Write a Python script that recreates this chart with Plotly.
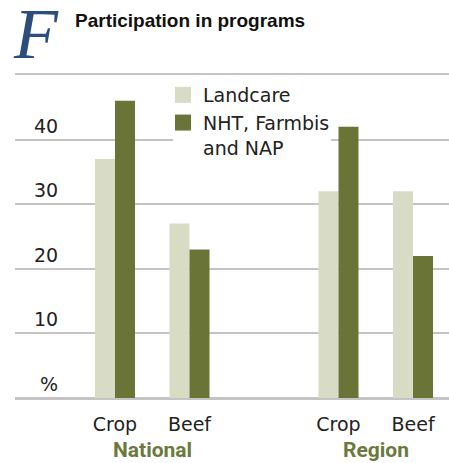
import plotly.graph_objects as go

# Participation in programs (% of farms)
group_labels = ["National", "Region"]
categories = ["Crop", "Beef", "Crop", "Beef"]
x_pos = [0, 1, 3, 4]
landcare = [37, 27, 32, 32]
nht_farmbis_nap = [46, 23, 42, 22]
y_ticks = [0, 10, 20, 30, 40]
y_tick_text = ["%", "10", "20", "30", "40"]
series_names = ["Landcare", "NHT, Farmbis<br>and NAP"]

LIGHT = "#d9dcc4"
DARK = "#697436"
OLIVE_TEXT = "#6b7a3c"
GRID = "#c4c4c4"
BAR_W = 0.2685
BODY_FONT = "DejaVu Sans, sans-serif"

fig = go.Figure()
for vals, name, color, off in [
    (landcare, series_names[0], LIGHT, -BAR_W),
    (nht_farmbis_nap, series_names[1], DARK, 0),
]:
    fig.add_trace(go.Bar(
        x=x_pos, y=vals, name=name, legendgroup=name, showlegend=False,
        marker=dict(color=color, line=dict(width=0)),
        width=BAR_W, offset=off,
    ))
    # legend entry with a larger square swatch
    fig.add_trace(go.Scatter(
        x=[None], y=[None], mode="markers", name=name, legendgroup=name,
        marker=dict(symbol="square", size=16, color=color, line=dict(width=0)),
    ))

# y tick labels sit just above their gridlines, right-aligned
for v, t in zip(y_ticks, y_tick_text):
    fig.add_annotation(
        x=-0.738, y=v, xref="x", yref="y", text=t, showarrow=False,
        xanchor="right", yanchor="bottom", yshift=1,
        font=dict(family=BODY_FONT, size=19, color="#222"),
    )

# group labels under the category ticks
for gx, g in zip([0.5, 3.5], group_labels):
    fig.add_annotation(
        x=gx, y=0, xref="x", yref="y", text="<b>" + g + "</b>", showarrow=False,
        xanchor="center", yanchor="middle", yshift=-52,
        font=dict(family="Roboto, sans-serif", size=21, color=OLIVE_TEXT),
    )

TOP, BOTTOM, LEFT = 75, 65, 15
plot_w = 449 - LEFT
plot_h = 463 - TOP - BOTTOM

# big italic panel letter
fig.add_annotation(
    x=(36 - LEFT) / plot_w, y=(463 - BOTTOM - 34) / plot_h, xref="paper", yref="paper",
    text="<i>F</i>", showarrow=False, xanchor="center", yanchor="middle",
    font=dict(family="Liberation Serif, serif", size=72, color="#2d4d7d"),
)

# white patch that interrupts the 40 gridline behind the legend text
fig.add_shape(
    type="rect", layer="between", xref="x", yref="y",
    x0=0.78, x1=2.9, y0=37, y1=43,
    fillcolor="white", line=dict(width=0),
)

fig.update_layout(
    width=449, height=463,
    margin=dict(l=LEFT, r=0, t=TOP, b=BOTTOM),
    paper_bgcolor="white", plot_bgcolor="white",
    barmode="overlay",
    showlegend=True,
    legend=dict(
        x=(163 - LEFT) / plot_w, y=(463 - BOTTOM - 76) / plot_h, xanchor="left", yanchor="top",
        bgcolor="rgba(0,0,0,0)", borderwidth=0, valign="top",
        font=dict(family=BODY_FONT, size=19, color="#222"),
        tracegroupgap=0, itemclick=False,
    ),
    title=dict(
        text="<b>Participation in programs</b>",
        x=75 / 449, xanchor="left", xref="container",
        y=1 - 20 / 463, yanchor="middle", yref="container",
        font=dict(family="Liberation Sans, Arial, sans-serif", size=19, color="#111"),
    ),
    xaxis=dict(
        range=[-1.342, 4.483], tickvals=x_pos, ticktext=categories,
        showgrid=False, zeroline=False, ticks="",
        # axis line mirrored to the top gives the rule at 50
        showline=True, mirror=True, linecolor=GRID, linewidth=1.5,
        tickfont=dict(family=BODY_FONT, size=19, color="#222"),
        ticklabelstandoff=8, fixedrange=True,
    ),
    yaxis=dict(
        range=[0, 50], tickvals=y_ticks, showticklabels=False,
        showgrid=True, gridcolor=GRID, gridwidth=1.5,
        zeroline=True, zerolinecolor=GRID, zerolinewidth=1.5,
        showline=False, ticks="", fixedrange=True,
    ),
)

fig.write_html("out.html")
